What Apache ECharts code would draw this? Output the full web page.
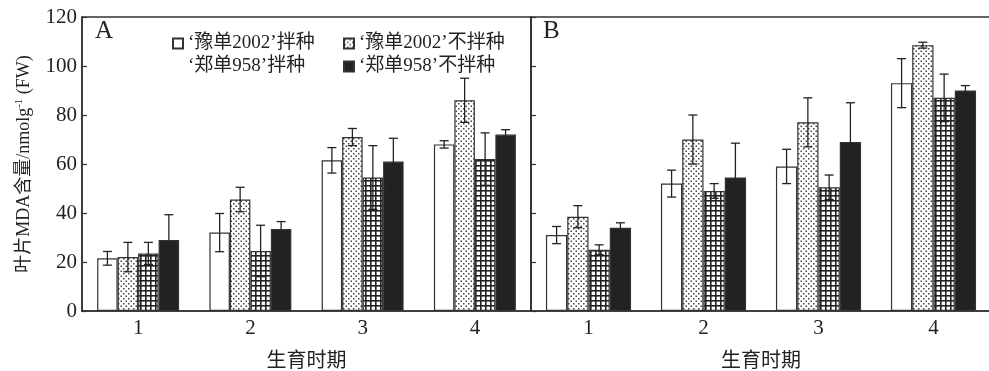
<!DOCTYPE html>
<html><head><meta charset="utf-8">
<script src="https://cdn.jsdelivr.net/npm/echarts@6/dist/echarts.min.js"></script>
<style>html,body{margin:0;padding:0;background:#fff}#c{width:989px;height:371px}</style>
</head><body><div id="c"></div>
<script>
// ---- data ----
const categories = ['1', '2', '3', '4'];
const seriesNames = ['‘豫单2002’拌种', '‘豫单2002’不拌种', '‘郑单958’拌种', '‘郑单958’不拌种'];
const yTicks = [0, 20, 40, 60, 80, 100, 120];
// Panel A values and errors
const A_s1 = [21.5, 32, 61.5, 68];   const A_e1 = [2.8, 7.8, 5.2, 1.5];
const A_s2 = [22, 45.5, 71, 86];     const A_e2 = [6, 5, 3.5, 9];
const A_s3 = [23.5, 24.5, 54.5, 62]; const A_e3 = [4.5, 10.5, 13, 10.7];
const A_s4 = [29, 33.5, 61, 72];     const A_e4 = [10.3, 3, 9.5, 2];
// Panel B values and errors
const B_s1 = [31, 52, 59, 93];       const B_e1 = [3.5, 5.5, 7, 10];
const B_s2 = [38.5, 70, 77, 108.5];  const B_e2 = [4.5, 10, 10, 1.2];
const B_s3 = [25, 49, 50.5, 87];     const B_e3 = [2, 3, 5, 9.7];
const B_s4 = [34, 54.5, 69, 90];     const B_e4 = [2, 14, 16, 2];

// ---- patterns ----
function dotPattern() {
  const c = document.createElement('canvas'); c.width = 5; c.height = 5;
  const g = c.getContext('2d');
  g.fillStyle = '#fff'; g.fillRect(0, 0, 5, 5);
  g.fillStyle = '#444';
  g.fillRect(0.5, 0.5, 1.5, 1.5); g.fillRect(3, 3, 1.5, 1.5);
  return c;
}
function gridPattern() {
  const c = document.createElement('canvas'); c.width = 5; c.height = 5;
  const g = c.getContext('2d');
  g.fillStyle = '#fff'; g.fillRect(0, 0, 5, 5);
  g.fillStyle = '#222';
  g.fillRect(0, 0, 1.6, 5); g.fillRect(0, 0, 5, 1.6);
  return c;
}
const fills = ['#ffffff', {image: dotPattern(), repeat: 'repeat'}, {image: gridPattern(), repeat: 'repeat'}, '#222222'];
const FONT = '"Liberation Serif", "Noto Sans CJK SC", serif';
const LINE = '#333';

const panels = [
  {vals: [A_s1, A_s2, A_s3, A_s4], errs: [A_e1, A_e2, A_e3, A_e4], gap: 0.27},
  {vals: [B_s1, B_s2, B_s3, B_s4], errs: [B_e1, B_e2, B_e3, B_e4], gap: 0.26}
];

const series = [];
panels.forEach((p, pi) => {
  p.vals.forEach((arr, k) => {
    series.push({
      name: seriesNames[k], type: 'bar', xAxisIndex: pi, yAxisIndex: pi,
      data: arr, barGap: '0%', barCategoryGap: (p.gap * 100) + '%',
      itemStyle: {color: fills[k], borderColor: LINE, borderWidth: 1.2},
      emphasis: {disabled: true}, z: 2
    });
  });
  p.vals.forEach((arr, k) => {
    const gap = p.gap;
    series.push({
      type: 'custom', xAxisIndex: pi, yAxisIndex: pi, z: 5, silent: true,
      encode: {x: 0, y: 1},
      data: arr.map((v, i) => [i, v, p.errs[k][i]]),
      renderItem: function (params, api) {
        const ci = api.value(0), v = api.value(1), e = api.value(2);
        const c = api.coord([ci, v]);
        const band = api.size([1, 0])[0];
        const bw = band * (1 - gap) / 4;
        const x = c[0] - 2 * bw + (k + 0.5) * bw;
        const yt = api.coord([ci, v + e])[1];
        const yb = api.coord([ci, v - e])[1];
        const st = {stroke: '#222', lineWidth: 1.3};
        const cap = 4.5;
        return {type: 'group', children: [
          {type: 'line', shape: {x1: x, y1: yt, x2: x, y2: yb}, style: st},
          {type: 'line', shape: {x1: x - cap, y1: yt, x2: x + cap, y2: yt}, style: st},
          {type: 'line', shape: {x1: x - cap, y1: yb, x2: x + cap, y2: yb}, style: st}
        ]};
      }
    });
  });
});

const axisLineStyle = {color: LINE, width: 1.5};
function xAxis(gi) {
  return {
    gridIndex: gi, type: 'category', data: categories,
    axisLine: {lineStyle: axisLineStyle},
    axisTick: {inside: true, length: 4, lineStyle: {color: LINE, width: 1.2}},
    axisLabel: {fontSize: 21, fontFamily: FONT, color: '#222', margin: 7},
    name: '生育时期', nameLocation: 'middle', nameGap: 41,
    nameTextStyle: {fontSize: 20, fontFamily: FONT, color: '#222'}
  };
}
function yAxis(gi) {
  const o = {
    gridIndex: gi, type: 'value', min: yTicks[0], max: yTicks[yTicks.length - 1], interval: 20,
    axisLine: {show: true, lineStyle: axisLineStyle},
    axisTick: {show: true, inside: true, length: 5, lineStyle: {color: LINE, width: 1.2}},
    axisLabel: {show: gi === 0, fontSize: 21, fontFamily: FONT, color: '#222', margin: 5},
    splitLine: {show: false}
  };
  if (gi === 0) {
    o.name = '叶片MDA含量/nmolg{sup|-1} (FW)';
    o.nameLocation = 'middle'; o.nameGap = 47; o.nameRotate = 90;
    o.nameTextStyle = {fontSize: 18, fontFamily: FONT, color: '#222',
      rich: {sup: {fontSize: 11, fontFamily: FONT, color: '#222', verticalAlign: 'top', padding: [0, 0, 10, 0]}}};
  }
  return o;
}

const legendText = {fontSize: 19, fontFamily: FONT, color: '#222'};
const option = {
  animation: false,
  backgroundColor: '#fff',
  grid: [
    {left: 82, top: 17, width: 449, height: 294, show: true, borderColor: LINE, borderWidth: 1.5, outerBoundsMode: 'none', containLabel: false},
    {left: 531, top: 17, width: 460, height: 294, show: true, borderColor: LINE, borderWidth: 1.5, outerBoundsMode: 'none', containLabel: false}
  ],
  xAxis: [xAxis(0), xAxis(1)],
  yAxis: [yAxis(0), yAxis(1)],
  legend: [
    {orient: 'vertical', left: 167, top: 29, itemWidth: 10, itemHeight: 10, itemGap: 4, icon: 'rect',
     textStyle: legendText, selectedMode: false,
     data: [{name: seriesNames[0]},
            {name: seriesNames[2], itemStyle: {color: 'rgba(0,0,0,0)', borderColor: 'rgba(0,0,0,0)', borderWidth: 0}}]},
    {orient: 'vertical', left: 338, top: 29, itemWidth: 10, itemHeight: 10, itemGap: 4, icon: 'rect',
     textStyle: legendText, selectedMode: false,
     data: [{name: seriesNames[1]}, {name: seriesNames[3]}]}
  ],
  graphic: [
    {type: 'text', left: 95, top: 19, style: {text: 'A', fontSize: 25, fontFamily: FONT, fill: '#222'}},
    {type: 'text', left: 543, top: 19, style: {text: 'B', fontSize: 25, fontFamily: FONT, fill: '#222'}}
  ],
  series: series
};
const chart = echarts.init(document.getElementById('c'), null, {renderer: 'canvas'});
chart.setOption(option);
</script></body></html>
